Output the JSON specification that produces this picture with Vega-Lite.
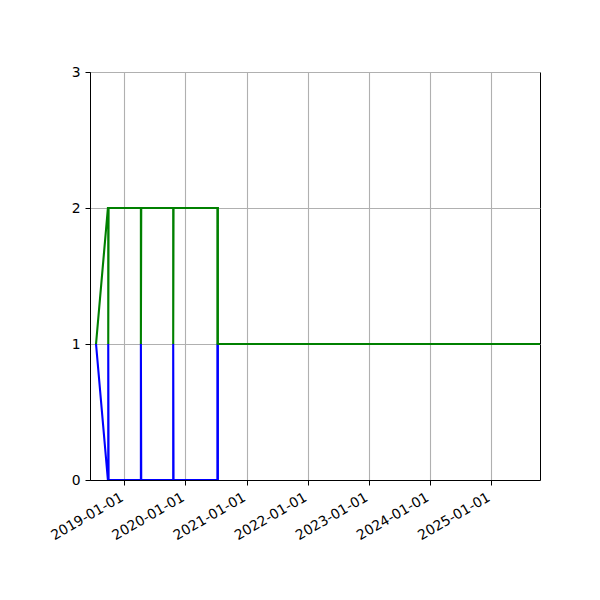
{
  "$schema": "https://vega.github.io/schema/vega-lite/v6.json",
  "width": 450,
  "height": 408,
  "autosize": {"type": "none"},
  "padding": {"left": 90, "top": 72, "right": 60, "bottom": 120},
  "background": "white",
  "config": {
    "view": {"stroke": "black", "strokeWidth": 1},
    "font": "DejaVu Sans",
    "axis": {
      "domainColor": "black",
      "tickColor": "black",
      "tickSize": 5,
      "tickWidth": 1,
      "labelColor": "black",
      "labelFont": "DejaVu Sans",
      "labelFontSize": 13.9,
      "labelPadding": 5,
      "gridColor": "#b0b0b0",
      "gridWidth": 1.1,
      "gridOpacity": 1,
      "title": null
    }
  },
  "data": {
    "values": [
      {"series": "blue", "i": 0, "date": "2018-07-16", "value": 1},
      {"series": "blue", "i": 1, "date": "2018-09-25", "value": 0},
      {"series": "blue", "i": 2, "date": "2018-09-27", "value": 0},
      {"series": "blue", "i": 3, "date": "2018-09-27", "value": 1},
      {"series": "blue", "i": 4, "date": "2018-09-29", "value": 0},
      {"series": "blue", "i": 5, "date": "2019-04-10", "value": 0},
      {"series": "blue", "i": 6, "date": "2019-04-10", "value": 1},
      {"series": "blue", "i": 7, "date": "2019-04-12", "value": 0},
      {"series": "blue", "i": 8, "date": "2019-10-20", "value": 0},
      {"series": "blue", "i": 9, "date": "2019-10-20", "value": 1},
      {"series": "blue", "i": 10, "date": "2019-10-22", "value": 0},
      {"series": "blue", "i": 11, "date": "2020-07-10", "value": 0},
      {"series": "blue", "i": 12, "date": "2020-07-10", "value": 1},
      {"series": "blue", "i": 13, "date": "2020-07-11", "value": 0},
      {"series": "blue", "i": 14, "date": "2020-07-13", "value": 0},
      {"series": "blue", "i": 15, "date": "2020-07-13", "value": 1},
      {"series": "blue", "i": 16, "date": "2025-10-19", "value": 1},
      {"series": "green", "i": 0, "date": "2018-07-16", "value": 1},
      {"series": "green", "i": 1, "date": "2018-09-25", "value": 2},
      {"series": "green", "i": 2, "date": "2018-09-27", "value": 2},
      {"series": "green", "i": 3, "date": "2018-09-27", "value": 1},
      {"series": "green", "i": 4, "date": "2018-09-29", "value": 2},
      {"series": "green", "i": 5, "date": "2019-04-10", "value": 2},
      {"series": "green", "i": 6, "date": "2019-04-10", "value": 1},
      {"series": "green", "i": 7, "date": "2019-04-12", "value": 2},
      {"series": "green", "i": 8, "date": "2019-10-20", "value": 2},
      {"series": "green", "i": 9, "date": "2019-10-20", "value": 1},
      {"series": "green", "i": 10, "date": "2019-10-22", "value": 2},
      {"series": "green", "i": 11, "date": "2020-07-10", "value": 2},
      {"series": "green", "i": 12, "date": "2020-07-10", "value": 1},
      {"series": "green", "i": 13, "date": "2020-07-11", "value": 2},
      {"series": "green", "i": 14, "date": "2020-07-13", "value": 2},
      {"series": "green", "i": 15, "date": "2020-07-13", "value": 1},
      {"series": "green", "i": 16, "date": "2025-10-19", "value": 1}
    ]
  },
  "mark": {"type": "line", "strokeWidth": 2.1, "clip": true},
  "encoding": {
    "x": {
      "field": "date",
      "type": "temporal",
      "scale": {
        "type": "utc",
        "domain": [
          {"year": 2018, "month": 6, "date": 10, "utc": true},
          {"year": 2025, "month": 10, "date": 19, "utc": true}
        ]
      },
      "axis": {
        "values": [
          {"year": 2019, "month": 1, "date": 1, "utc": true},
          {"year": 2020, "month": 1, "date": 1, "utc": true},
          {"year": 2021, "month": 1, "date": 1, "utc": true},
          {"year": 2022, "month": 1, "date": 1, "utc": true},
          {"year": 2023, "month": 1, "date": 1, "utc": true},
          {"year": 2024, "month": 1, "date": 1, "utc": true},
          {"year": 2025, "month": 1, "date": 1, "utc": true}
        ],
        "labelExpr": "utcFormat(datum.value, '%Y-%m-%d')",
        "labelAngle": -30,
        "labelAlign": "right",
        "labelBaseline": "top",
        "labelOffset": -6,
        "labelFlush": false,
        "labelOverlap": false
      }
    },
    "y": {
      "field": "value",
      "type": "quantitative",
      "scale": {"domain": [0, 3], "nice": false, "zero": false},
      "axis": {"values": [0, 1, 2, 3], "format": "d"}
    },
    "color": {
      "field": "series",
      "type": "nominal",
      "scale": {"domain": ["blue", "green"], "range": ["#0000ff", "#008000"]},
      "legend": null
    },
    "order": {"field": "i", "type": "quantitative"}
  }
}
